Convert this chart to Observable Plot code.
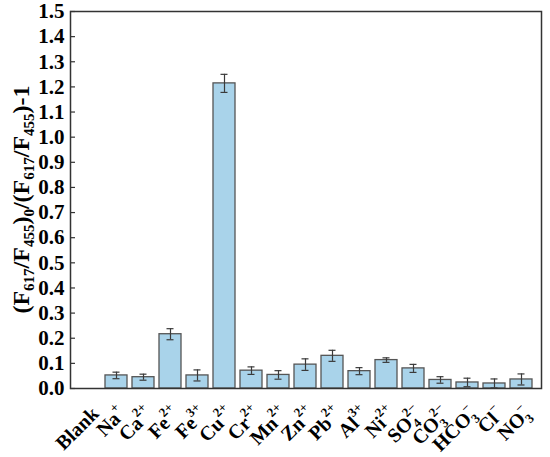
<!DOCTYPE html>
<html><head><meta charset="utf-8">
<script src="https://cdn.jsdelivr.net/npm/d3@7"></script>
<script src="https://cdn.jsdelivr.net/npm/@observablehq/plot@0.6"></script>
<style>body{margin:0;background:#fff;} #chart svg{display:block;}</style>
</head><body><div id="chart"></div>
<script>
// Category labels (base, subscript, superscript)
const bases = ["Blank","Na","Ca","Fe","Fe","Cu","Cr","Mn","Zn","Pb","Al","Ni","SO","CO","HCO","Cl","NO"];
const subs  = ["","","","","","","","","","","","","4","3","3","","3"];
const sups  = ["","+","2+","2+","3+","2+","2+","2+","2+","2+","3+","2+","2\u2212","2\u2212","\u2212","\u2212","\u2212"];
// Values and error bars
const values = [0,0.052,0.045,0.216,0.052,1.214,0.071,0.054,0.095,0.130,0.069,0.113,0.080,0.034,0.024,0.020,0.036];
const errors = [0,0.013,0.012,0.022,0.022,0.036,0.015,0.017,0.023,0.022,0.014,0.009,0.016,0.013,0.017,0.018,0.022];
const yTicks = d3.range(0,16).map(i=>i/10);

const data = bases.map((b,i)=>({key:b+subs[i]+sups[i], i, v:values[i], e:errors[i]}));
const W=550,H=457,mL=70,mR=9,mT=11,mB=69;
const serif = '"Liberation Serif","Times New Roman",Times,serif';

const plot = Plot.plot({
  width:W, height:H, marginLeft:mL, marginRight:mR, marginTop:mT, marginBottom:mB,
  style:{fontFamily:serif, background:"#fff", overflow:"visible"},
  x:{domain:data.map(d=>d.key), paddingInner:0.17, paddingOuter:0.085, label:null, axis:null},
  y:{domain:[0,1.5], label:null},
  marks:[
    Plot.barY(data.filter(d=>d.v>0), {x:"key", y:"v", fill:"#a9d3ea", stroke:"#555", strokeWidth:1.3}),
    Plot.ruleX(data.filter(d=>d.e>0), {x:"key", y1:d=>d.v-d.e, y2:d=>d.v+d.e, stroke:"#3a3a3a", strokeWidth:1.2}),
    Plot.tickY(data.filter(d=>d.e>0), {x:"key", y:d=>d.v+d.e, insetLeft:7.5, insetRight:7.5, stroke:"#3a3a3a", strokeWidth:1.2}),
    Plot.tickY(data.filter(d=>d.e>0), {x:"key", y:d=>d.v-d.e, insetLeft:7.5, insetRight:7.5, stroke:"#3a3a3a", strokeWidth:1.2}),
    Plot.tickY(yTicks, {y:d=>d, insetRight:W-mL-mR-5, stroke:"#333", strokeWidth:1.2}),
    Plot.axisY({ticks:yTicks, tickFormat:d3.format(".1f"), tickSize:0, tickPadding:6, fontSize:21, fontWeight:"bold", label:null}),
    Plot.frame({stroke:"#333", strokeWidth:1.5})
  ]
});
document.getElementById("chart").append(plot);

const svg = d3.select(plot);
const xs = plot.scale("x");
const bw = xs.bandwidth;

// rich-text rotated x tick labels, positioned with the x scale
const gx = svg.append("g").attr("font-family",serif).attr("font-weight","bold")
  .attr("font-size",20).attr("fill","#000");
data.forEach(d=>{
  const cx = xs.apply(d.key) + bw/2;
  const t = gx.append("g").attr("transform",`translate(${cx+6},${H-mB+22})`)
    .append("g").attr("transform","rotate(-45)")
    .append("text").attr("text-anchor","end").attr("dy","0.35em");
  t.append("tspan").text(bases[d.i]);
  if (subs[d.i]) {
    t.append("tspan").attr("font-size",13).attr("dy",5).text(subs[d.i]);
    t.append("tspan").attr("font-size",13).attr("dx",-6.5).attr("dy",-15).text(sups[d.i]);
  } else if (sups[d.i]) {
    t.append("tspan").attr("font-size",13).attr("dy",-10).text(sups[d.i]);
  }
});

// y axis title with subscripts
const yl = svg.append("text")
  .attr("transform",`translate(29,${(mT+H-mB)/2}) rotate(-90)`)
  .attr("text-anchor","middle").attr("font-size",24).attr("font-weight","bold")
  .attr("font-family",serif).attr("fill","#000");
const parts = [["(F",0],["617",1],["/F",0],["455",1],[")",0],["0",1],["/(F",0],["617",1],["/F",0],["455",1],[")-1",0]];
parts.forEach(([s,isSub],k)=>{
  const ts = yl.append("tspan").text(s);
  if (isSub) ts.attr("font-size",15).attr("dy",5);
  else if (k>0) ts.attr("dy",-5);
});
</script>
</body></html>
